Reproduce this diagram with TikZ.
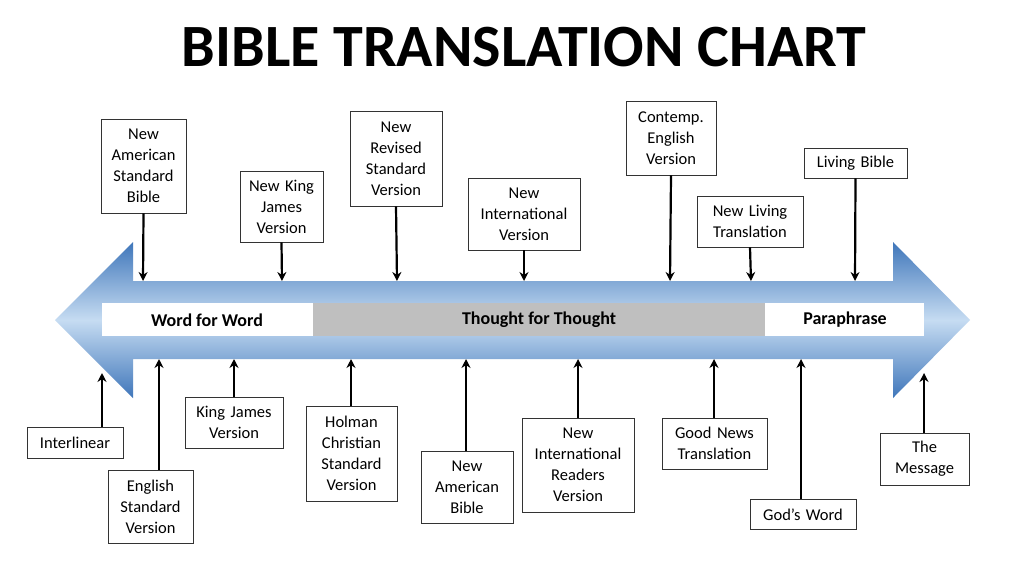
\documentclass[tikz,border=0pt]{standalone}
\usepackage{fontspec}
\setmainfont{Carlito}
\usetikzlibrary{arrows.meta}
\definecolor{edgeblue}{HTML}{3F76BA}
\definecolor{midblue}{HTML}{C6DCF2}
\begin{document}
\begin{tikzpicture}[x=1pt,y=-1pt,
  bx/.style={draw=black!80,line width=0.8pt,fill=white,align=center,inner sep=2pt,font=\fontsize{16.5}{21}\selectfont},
  ar/.style={line width=2.2pt,-{Stealth[length=9pt,width=9pt]}},
  band/.style={font=\bfseries\fontsize{18}{20}\selectfont}]
\useasboundingbox (0,0) rectangle (1024,576);
\fill[white] (0,0) rectangle (1024,576);
\node[font=\bfseries\fontsize{60}{66}\selectfont] (title) at (524,47) {BIBLE TRANSLATION CHART};
% big arrow
\shade[top color=edgeblue, bottom color=edgeblue, middle color=midblue]
 (55,320) -- (133,242) -- (133,281) -- (893,281) -- (893,242) -- (970,320) -- (893,398) -- (893,359) -- (133,359) -- (133,398) -- cycle;
\fill[white] (102,303) rectangle (924,336);
\fill[black!25] (313,303) rectangle (765,336);
\node[band] (ww) at (207,320) {Word for Word};
\node[band] (tt) at (539,320) {Thought for Thought};
\node[band] (pp) at (845,320) {Paraphrase};
\coordinate (t143) at (143,281); \coordinate (t282) at (282,281);
\coordinate (t397) at (397,281); \coordinate (t524) at (524,281);
\coordinate (t670) at (670,281); \coordinate (t751) at (751,281);
\coordinate (t855) at (855,281);
\coordinate (b102) at (102,373); \coordinate (b159) at (159,359);
\coordinate (b234) at (234,359); \coordinate (b351) at (351,359);
\coordinate (b466) at (466,359); \coordinate (b578) at (578,359);
\coordinate (b714) at (714,359); \coordinate (b801) at (801,359);
\coordinate (b924) at (924,373);
% top boxes
\node[bx,minimum width=85,minimum height=94,text width=81] (nasb) at (143.5,166) {New\\American\\Standard\\Bible};
\node[bx,minimum width=83,minimum height=71,text width=79] (nkjv) at (281.5,206.5) {New King\\James\\Version};
\node[bx,minimum width=92,minimum height=95,text width=88] (nrsv) at (396,158.5) {New\\Revised\\Standard\\Version};
\node[bx,minimum width=112,minimum height=72,text width=108] (niv) at (524,214) {New\\International\\Version};
\node[bx,minimum width=90,minimum height=74,text width=86] (cev) at (671,138) {Contemp.\\English\\Version};
\node[bx,minimum width=106,minimum height=51,text width=102] (nlt) at (750,221.5) {New Living\\Translation};
\node[bx,minimum width=103,minimum height=30,text width=99] (lb) at (855.5,163) {Living Bible};
\draw[ar] (nasb.south) -- (t143);
\draw[ar] (nkjv.south) -- (t282);
\draw[ar] (nrsv.south) -- (t397);
\draw[ar] (niv.south) -- (t524);
\draw[ar] (cev.south) -- (t670);
\draw[ar] (nlt.south) -- (t751);
\draw[ar] (lb.south) -- (t855);
% bottom boxes
\node[bx,minimum width=96,minimum height=31,text width=92] (il) at (75,442.5) {Interlinear};
\node[bx,minimum width=85,minimum height=73,text width=81] (esv) at (150.5,506.5) {English\\Standard\\Version};
\node[bx,minimum width=98,minimum height=51,text width=94] (kjv) at (234,422.5) {King James\\Version};
\node[bx,minimum width=91,minimum height=95,text width=87] (hcsv) at (351.5,453.5) {Holman\\Christian\\Standard\\Version};
\node[bx,minimum width=92,minimum height=72,text width=88] (nab) at (467,487) {New\\American\\Bible};
\node[bx,minimum width=112,minimum height=94,text width=108] (nirv) at (578,465) {New\\International\\Readers\\Version};
\node[bx,minimum width=105,minimum height=51,text width=101] (gnt) at (714.5,443.5) {Good News\\Translation};
\node[bx,minimum width=106,minimum height=30,text width=102] (gw) at (803,514.5) {God’s Word};
\node[bx,minimum width=89,minimum height=52,text width=85] (msg) at (924.5,459) {The\\Message};
\draw[ar] (il.north -| b102) -- (b102);
\draw[ar] (esv.north -| b159) -- (b159);
\draw[ar] (kjv.north) -- (b234);
\draw[ar] (hcsv.north -| b351) -- (b351);
\draw[ar] (nab.north -| b466) -- (b466);
\draw[ar] (nirv.north) -- (b578);
\draw[ar] (gnt.north -| b714) -- (b714);
\draw[ar] (gw.north -| b801) -- (b801);
\draw[ar] (msg.north -| b924) -- (b924);
\end{tikzpicture}
\end{document}
